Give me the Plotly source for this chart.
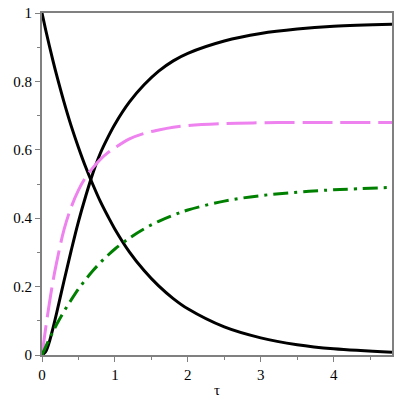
import plotly.graph_objects as go

# values
tau = [0, 0.05, 0.1, 0.15, 0.2, 0.3, 0.4, 0.5, 0.6, 0.7, 0.8, 0.9, 1.0,
       1.2, 1.4, 1.6, 1.8, 2.0, 2.5, 3.0, 3.5, 4.0, 4.8]

decay = [1.0, 0.951, 0.905, 0.861, 0.819, 0.741, 0.670, 0.607, 0.549, 0.497,
         0.449, 0.407, 0.368, 0.301, 0.247, 0.202, 0.165, 0.135, 0.082,
         0.050, 0.030, 0.018, 0.008]

rise = [0.0, 0.01, 0.038, 0.078, 0.122, 0.215, 0.305, 0.39, 0.465, 0.533,
        0.59, 0.635, 0.675, 0.74, 0.79, 0.83, 0.86, 0.882, 0.918,
        0.94, 0.953, 0.961, 0.967]

pink = [0.0, 0.078, 0.15, 0.215, 0.27, 0.365, 0.432, 0.482, 0.52, 0.548,
        0.572, 0.591, 0.606, 0.632, 0.648, 0.658, 0.666, 0.671, 0.677,
        0.679, 0.68, 0.68, 0.68]

green = [0.0, 0.024, 0.047, 0.068, 0.089, 0.127, 0.161, 0.193, 0.221, 0.247,
         0.27, 0.291, 0.31, 0.342, 0.369, 0.391, 0.409, 0.424, 0.45,
         0.466, 0.476, 0.483, 0.49]

SERIF = "Times New Roman"

fig = go.Figure()

fig.add_trace(go.Scatter(x=tau, y=decay, mode="lines", line_shape="spline",
                         line=dict(color="black", width=3)))
fig.add_trace(go.Scatter(x=tau, y=rise, mode="lines", line_shape="spline",
                         line=dict(color="black", width=3)))
fig.add_trace(go.Scatter(x=tau, y=pink, mode="lines", line_shape="spline",
                         line=dict(color="#EE82EE", width=3, dash="30px,8px")))
fig.add_trace(go.Scatter(x=tau, y=green, mode="lines", line_shape="spline",
                         line=dict(color="#008000", width=3,
                                   dash="15px,6px,3px,6px")))

axis_style = dict(
    showline=True, linecolor="#808080", linewidth=2, mirror=True,
    ticks="outside", ticklen=5, tickcolor="#808080", tickwidth=1,
    showgrid=False, zeroline=False, automargin=False,
    tickfont=dict(family=SERIF, size=15, color="black"),
)

fig.update_xaxes(range=[0, 4.8], tickvals=[0, 1, 2, 3, 4],
                 minor=dict(ticks="outside", ticklen=3, tickcolor="#808080",
                            dtick=0.5),
                 title=dict(text="τ", standoff=2,
                            font=dict(family=SERIF, size=15, color="black")),
                 **axis_style)
fig.update_yaxes(range=[0, 1], tickvals=[0, 0.2, 0.4, 0.6, 0.8, 1],
                 ticktext=["0", "0.2", "0.4", "0.6", "0.8", "1"],
                 minor=dict(ticks="outside", ticklen=3, tickcolor="#808080",
                            dtick=0.1),
                 **axis_style)

fig.update_layout(
    width=400, height=400,
    margin=dict(l=42, r=8, t=13, b=45),
    paper_bgcolor="white", plot_bgcolor="white",
    showlegend=False,
    font=dict(family=SERIF),
)

# drop the page's default body margin so the figure sits at (0, 0)
fig.write_html("out.html", config={"displayModeBar": False},
               post_script="document.body.style.margin='0';")
